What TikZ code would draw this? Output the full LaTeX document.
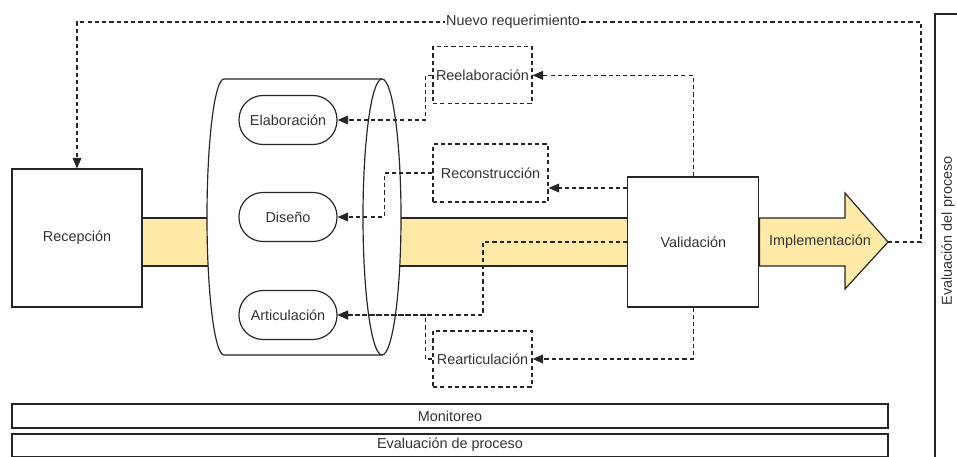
\documentclass[tikz,border=0pt]{standalone}
\usepackage{fontspec}
\setmainfont{Liberation Sans}
\usetikzlibrary{arrows.meta}
\definecolor{DgBand}{HTML}{FFE9A6}
\definecolor{DgLine}{HTML}{262626}
\definecolor{DgText}{HTML}{333333}

\begin{document}
\begin{tikzpicture}[x=1cm,y=1cm,
  font=\fontsize{12.3}{14}\selectfont, text=DgText,
  box/.style={draw=DgLine,line width=1pt,fill=white,align=center,inner sep=0pt},
  pill/.style={box,rounded corners=0.72cm},
  dashbox/.style={draw=DgLine,line width=0.95pt,dash pattern=on 3.6pt off 2.6pt,inner sep=0pt},
  flow/.style={draw=DgLine,line width=0.95pt,dash pattern=on 3.6pt off 2.6pt},
  tip/.style={-{Triangle[length=9pt,width=7.5pt]}},
  band/.style={fill=DgBand,draw=DgLine,line width=1pt}]
\path[use as bounding box] (0,0) rectangle (28.71,13.71);
\node[box,minimum width=3.90cm,minimum height=4.14cm] (rec) at (2.31,6.57) {Recepción};
\filldraw[band] (rec.east |- 0,7.17) rectangle (6.72,5.73);
\filldraw[fill=white,draw=DgLine,line width=1pt] (11.46,11.34) -- (6.72,11.34)
  arc[start angle=90,end angle=270,x radius=0.51,y radius=4.14] -- (11.46,3.06);
\node[box,minimum width=3.93cm,minimum height=3.90cm] (valid) at (20.80,6.45) {Validación};
\filldraw[band] (11.46,7.17) rectangle (valid.west |- 0,5.73);
\filldraw[fill=white,draw=DgLine,line width=1pt] (11.46,7.20) ellipse[x radius=0.57,y radius=4.14];
\node[pill,minimum width=2.94cm,minimum height=1.47cm] (elab) at (8.64,10.11) {Elaboración};
\node[pill,minimum width=2.94cm,minimum height=1.47cm] (dise) at (8.64,7.20) {Diseño};
\node[pill,minimum width=2.94cm,minimum height=1.47cm] (arti) at (8.64,4.26) {Articulación};
\filldraw[band] (valid.east |- 0,7.17) -- (25.35,7.17) -- (25.35,7.92) -- (26.64,6.45)
  -- (25.35,5.04) -- (25.35,5.73) -- (valid.east |- 0,5.73) -- cycle;
\coordinate (impltip) at (26.64,6.45);
\node (impl) at (24.60,6.45) {Implementación};
\node[dashbox,minimum width=2.97cm,minimum height=1.71cm] (reela) at (14.475,11.45) {Reelaboración};
\node[dashbox,minimum width=3.45cm,minimum height=1.74cm] (recon) at (14.715,8.52) {Reconstrucción};
\node[dashbox,minimum width=2.97cm,minimum height=1.68cm] (rearti) at (14.475,2.94) {Rearticulación};
\coordinate (retR) at (27.63,13.05);
\coordinate (retL) at (rec.north |- retR);
\draw[flow,tip] (impltip) -| (retR) -- (retL) -- (rec.north);
\node[fill=white,inner sep=1pt] (nuevo) at (15.39,13.05) {Nuevo requerimiento};
\draw[flow,tip] (valid.north) |- (reela.east);
\draw[flow,tip] (reela.west) -- ++(-0.21,0) |- (elab.east);
\coordinate (rcin) at ([yshift=-0.45cm]recon.east);
\draw[flow,tip] (rcin -| valid.west) -- (rcin);
\draw[flow,tip] (recon.west) -- ++(-1.44,0) |- (dise.east);
\coordinate (artj) at (14.49,6.45);
\draw[flow,tip] (valid.west) -- (artj) |- (arti.east);
\draw[flow,tip] (valid.south) |- (rearti.east);
\draw[flow,tip] (rearti.west) -- ++(-0.21,0) |- (arti.east);
\node[box,minimum width=26.28cm,minimum height=0.72cm] (moni) at (13.50,1.23) {Monitoreo};
\node[box,minimum width=26.28cm,minimum height=0.67cm] (evalp) at (13.50,0.355) {Evaluación de proceso};
\draw[DgLine,line width=1pt] (28.05,0) |- (28.80,13.29);
\node[rotate=90] (evald) at (28.44,6.78) {Evaluación del proceso};
\end{tikzpicture}
\end{document}
